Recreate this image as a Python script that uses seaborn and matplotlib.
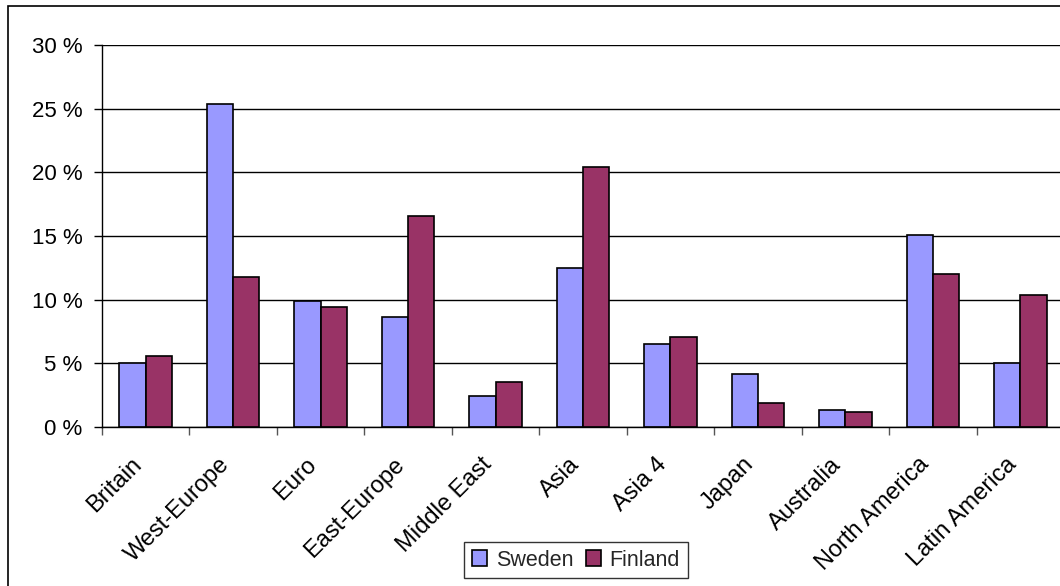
import matplotlib
matplotlib.use("Agg")
import matplotlib.pyplot as plt
import matplotlib.transforms as mtransforms
import seaborn as sns
import pandas as pd
import numpy as np
from matplotlib.patches import Rectangle
from matplotlib.ticker import FixedLocator

categories = ["Britain", "West-Europe", "Euro", "East-Europe", "Middle East", "Asia",
              "Asia 4", "Japan", "Australia", "North America", "Latin America"]
sweden = [5.0, 25.4, 9.9, 8.6, 2.4, 12.5, 6.5, 4.2, 1.3, 15.1, 5.0]
finland = [5.6, 11.8, 9.4, 16.6, 3.5, 20.4, 7.1, 1.9, 1.2, 12.0, 10.4]
series = ["Sweden", "Finland"]
yticks = [0, 5, 10, 15, 20, 25, 30]

df = pd.DataFrame({
    "region": categories * 2,
    "share": sweden + finland,
    "country": [series[0]] * len(categories) + [series[1]] * len(categories),
})

sns.set_theme(style="white")
plt.rcParams["font.family"] = ["Liberation Sans", "DejaVu Sans"]

fig = plt.figure(figsize=(10.6, 5.86), dpi=100)
ax = fig.add_axes([102 / 1060, 1 - 427 / 586, (1064 - 102) / 1060, (427 - 45) / 586])

sns.barplot(data=df, x="region", y="share", hue="country", order=categories,
            hue_order=series, palette=["#9999FF", "#993366"], saturation=1, width=0.6,
            edgecolor="black", linewidth=1.2, ax=ax, legend=True)

ax.set_ylim(0, 30)
ax.set_xlim(-0.5, len(categories) - 0.5)
ax.set_yticks(yticks)
ax.set_yticklabels([f"{v} %" for v in yticks], fontsize=16, color="black")
ax.yaxis.grid(True, color="black", linewidth=1)
ax.set_axisbelow(True)
ax.tick_params(axis="y", which="major", direction="out", length=6, width=1, color="black", left=True, pad=8)

ax.set_xticks(range(len(categories)))
ax.set_xticklabels(categories, rotation=45, ha="right", rotation_mode="anchor", fontsize=17, color="black")
ax.xaxis.set_minor_locator(FixedLocator(np.arange(-0.5, len(categories), 1.0)))
ax.tick_params(axis="x", which="major", length=0, pad=19)
ax.tick_params(axis="x", which="minor", direction="out", length=6, width=1, color="#555555", bottom=True)
offset = mtransforms.ScaledTranslation(-15 / 100, 0, fig.dpi_scale_trans)
for lbl in ax.get_xticklabels():
    lbl.set_transform(lbl.get_transform() + offset)

ax.set_xlabel("")
ax.set_ylabel("")
for s in ["top", "right"]:
    ax.spines[s].set_visible(False)
for s in ["left", "bottom"]:
    ax.spines[s].set_color("black")
    ax.spines[s].set_linewidth(1)

leg = ax.legend(loc="center", bbox_to_anchor=(576 / 1060, 1 - 560 / 586),
                bbox_transform=fig.transFigure, ncol=2, fontsize=15.5, frameon=True,
                fancybox=False, edgecolor="black", handlelength=0.7, handleheight=0.7,
                handletextpad=0.4, columnspacing=0.6, borderpad=0.35)
leg.get_frame().set_linewidth(1)
leg.set_zorder(20)

fig.patches.append(Rectangle((8 / 1060, -0.1), 1.2, 1 - 6 / 586 + 0.1,
                             transform=fig.transFigure, fill=False,
                             edgecolor="black", linewidth=1.2, zorder=10))

fig.savefig("out.png", dpi=100)
